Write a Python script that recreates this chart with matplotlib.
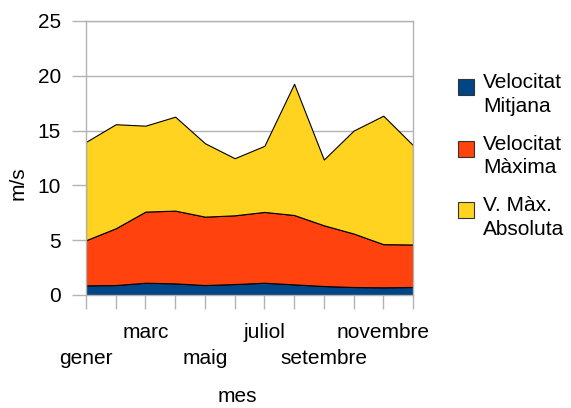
import matplotlib
matplotlib.use("Agg")
import matplotlib.pyplot as plt
from matplotlib.patches import Rectangle

plt.rcParams['font.family'] = ['Liberation Sans', 'DejaVu Sans']

months = ['gener', 'febrer', 'marc', 'abril', 'maig', 'juny', 'juliol',
          'agost', 'setembre', 'octubre', 'novembre', 'desembre']
mitjana = [0.88, 0.91, 1.12, 1.06, 0.91, 1.00, 1.12, 0.97, 0.82, 0.73, 0.70, 0.73]
maxima = [4.12, 5.18, 6.49, 6.64, 6.24, 6.27, 6.46, 6.33, 5.54, 4.88, 3.94, 3.88]
absoluta = [8.97, 9.49, 7.84, 8.57, 6.70, 5.21, 6.03, 11.97, 6.00, 9.39, 11.72, 9.06]
series_names = ['Velocitat\nMitjana', 'Velocitat\nMàxima', 'V. Màx.\nAbsoluta']
colors = ['#004586', '#ff420e', '#ffd320']
yticks = [0, 5, 10, 15, 20, 25]

W, H = 571, 408
fig = plt.figure(figsize=(W / 100, H / 100), dpi=100)
ax = fig.add_axes([86 / W, 1 - 295 / H, (413 - 86) / W, (295 - 21) / H])

x = list(range(len(months)))
ax.stackplot(x, mitjana, maxima, absoluta, colors=colors,
             edgecolor='black', linewidth=0.8)

ax.set_xlim(0, len(months) - 1)
ax.set_ylim(0, 25)
ax.set_yticks(yticks)
ax.set_yticklabels([str(v) for v in yticks], fontsize=15)
ax.yaxis.grid(True, color='#b3b3b3', linewidth=1)
ax.set_axisbelow(True)

# row 1 labels as tick labels, row 2 as separate texts
labels = []
for i, m in enumerate(months):
    if i % 4 == 2:
        labels.append(m)
    else:
        labels.append('')
ax.set_xticks(x)
ax.set_xticklabels(labels, fontsize=15)
for i, m in enumerate(months):
    if i % 4 == 0:
        ax.annotate(m, xy=(i, 0), xycoords=('data', 'axes fraction'),
                    xytext=(0, -63 * 0.72), textcoords='offset points',
                    ha='center', va='center', fontsize=15)

ax.tick_params(axis='both', direction='out', length=10, color='#b3b3b3',
               width=1, labelcolor='black')
ax.tick_params(axis='y', pad=8)
ax.tick_params(axis='x', pad=10)
for sp in ax.spines.values():
    sp.set_color('#b3b3b3')
    sp.set_linewidth(1)

fig.text(18 / W, 1 - 183 / H, 'm/s', rotation=90, fontsize=15,
         ha='center', va='center')
fig.text(237 / W, 1 - 397 / H, 'mes', fontsize=15, ha='center', va='center')

# legend
for k, (name, c) in enumerate(zip(series_names, colors)):
    top = 79 + k * 61.5
    fig.patches.append(Rectangle((458 / W, 1 - (top + 16) / H), 16 / W, 16 / H,
                                 facecolor=c, edgecolor='#333333', linewidth=0.8,
                                 transform=fig.transFigure, figure=fig))
    fig.text(483 / W, 1 - (top - 6) / H, name, fontsize=15, ha='left',
             va='top', linespacing=1.3)

fig.savefig('out.png', dpi=100)
